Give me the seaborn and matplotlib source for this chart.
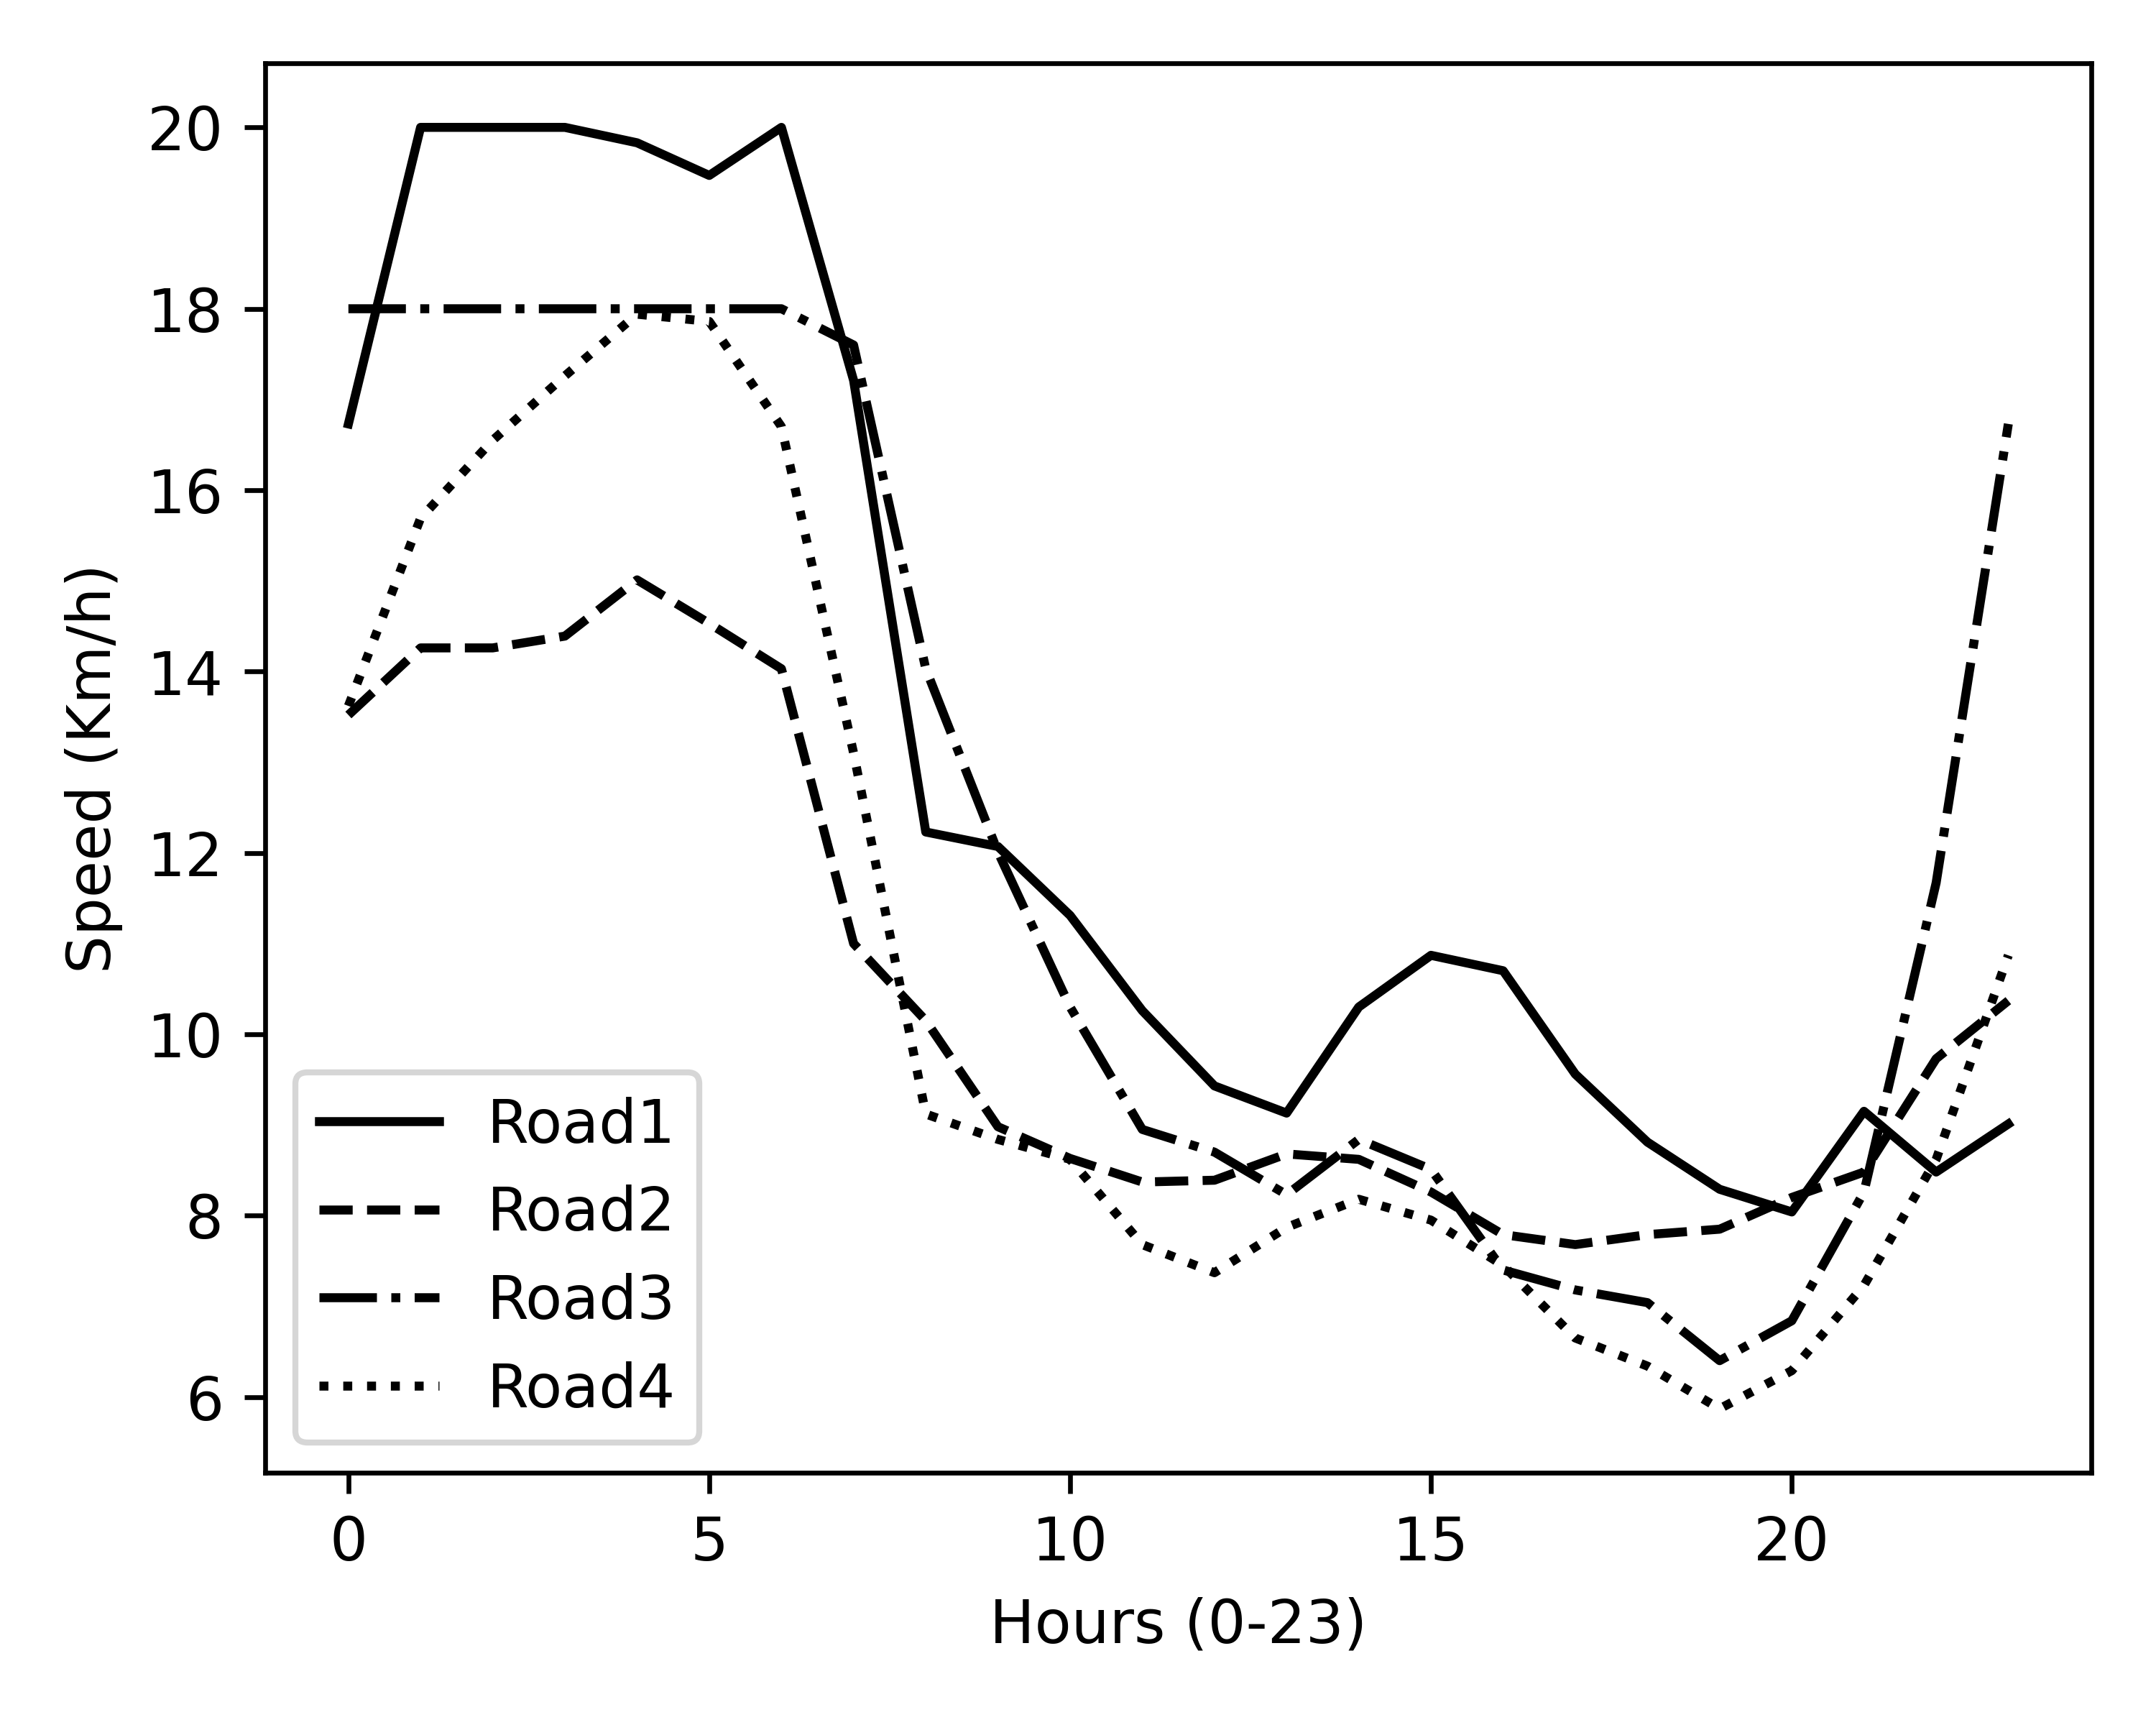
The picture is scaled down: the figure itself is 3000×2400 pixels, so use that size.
import matplotlib
matplotlib.use('Agg')
import matplotlib.pyplot as plt
import seaborn as sns

# Hourly average speed per road
hours = list(range(24))
road1 = [16.73, 20, 20, 20, 19.83, 19.47, 20, 17.21, 12.23, 12.07, 11.31, 10.26,
         9.43, 9.13, 10.3, 10.87, 10.7, 9.56, 8.81, 8.29, 8.04, 9.15, 8.48, 9.01]
road2 = [13.52, 14.26, 14.26, 14.39, 15.01, 14.53, 14.03, 11.0, 10.15, 8.98, 8.63, 8.37,
         8.39, 8.68, 8.62, 8.26, 7.79, 7.68, 7.79, 7.85, 8.2, 8.48, 9.73, 10.37]
road3 = [18, 18, 18, 18, 18, 18, 18, 17.6, 14.03, 12.01, 10.3, 8.95,
         8.7, 8.23, 8.84, 8.51, 7.4, 7.18, 7.04, 6.4, 6.84, 8.26, 11.67, 16.73]
road4 = [13.62, 15.69, 16.55, 17.26, 17.94, 17.86, 16.7, 13.1, 9.12, 8.84, 8.62, 7.68,
         7.37, 7.87, 8.18, 7.95, 7.45, 6.65, 6.34, 5.87, 6.29, 7.23, 8.62, 10.87]

names = ['Road1', 'Road2', 'Road3', 'Road4']
styles = ['-', '--', '-.', ':']

fig = plt.figure(figsize=(5, 4), dpi=600)
ax = fig.add_axes([0.1231, 0.1462, 0.8469, 0.8171])

for name, vals, ls in zip(names, [road1, road2, road3, road4], styles):
    sns.lineplot(x=hours, y=vals, color='black', linestyle=ls, label=name, ax=ax)

ax.set_xlabel('Hours (0-23)')
ax.set_ylabel('Speed (Km/h)')
ax.legend(loc='lower left')

fig.savefig('out.png', dpi=600)
